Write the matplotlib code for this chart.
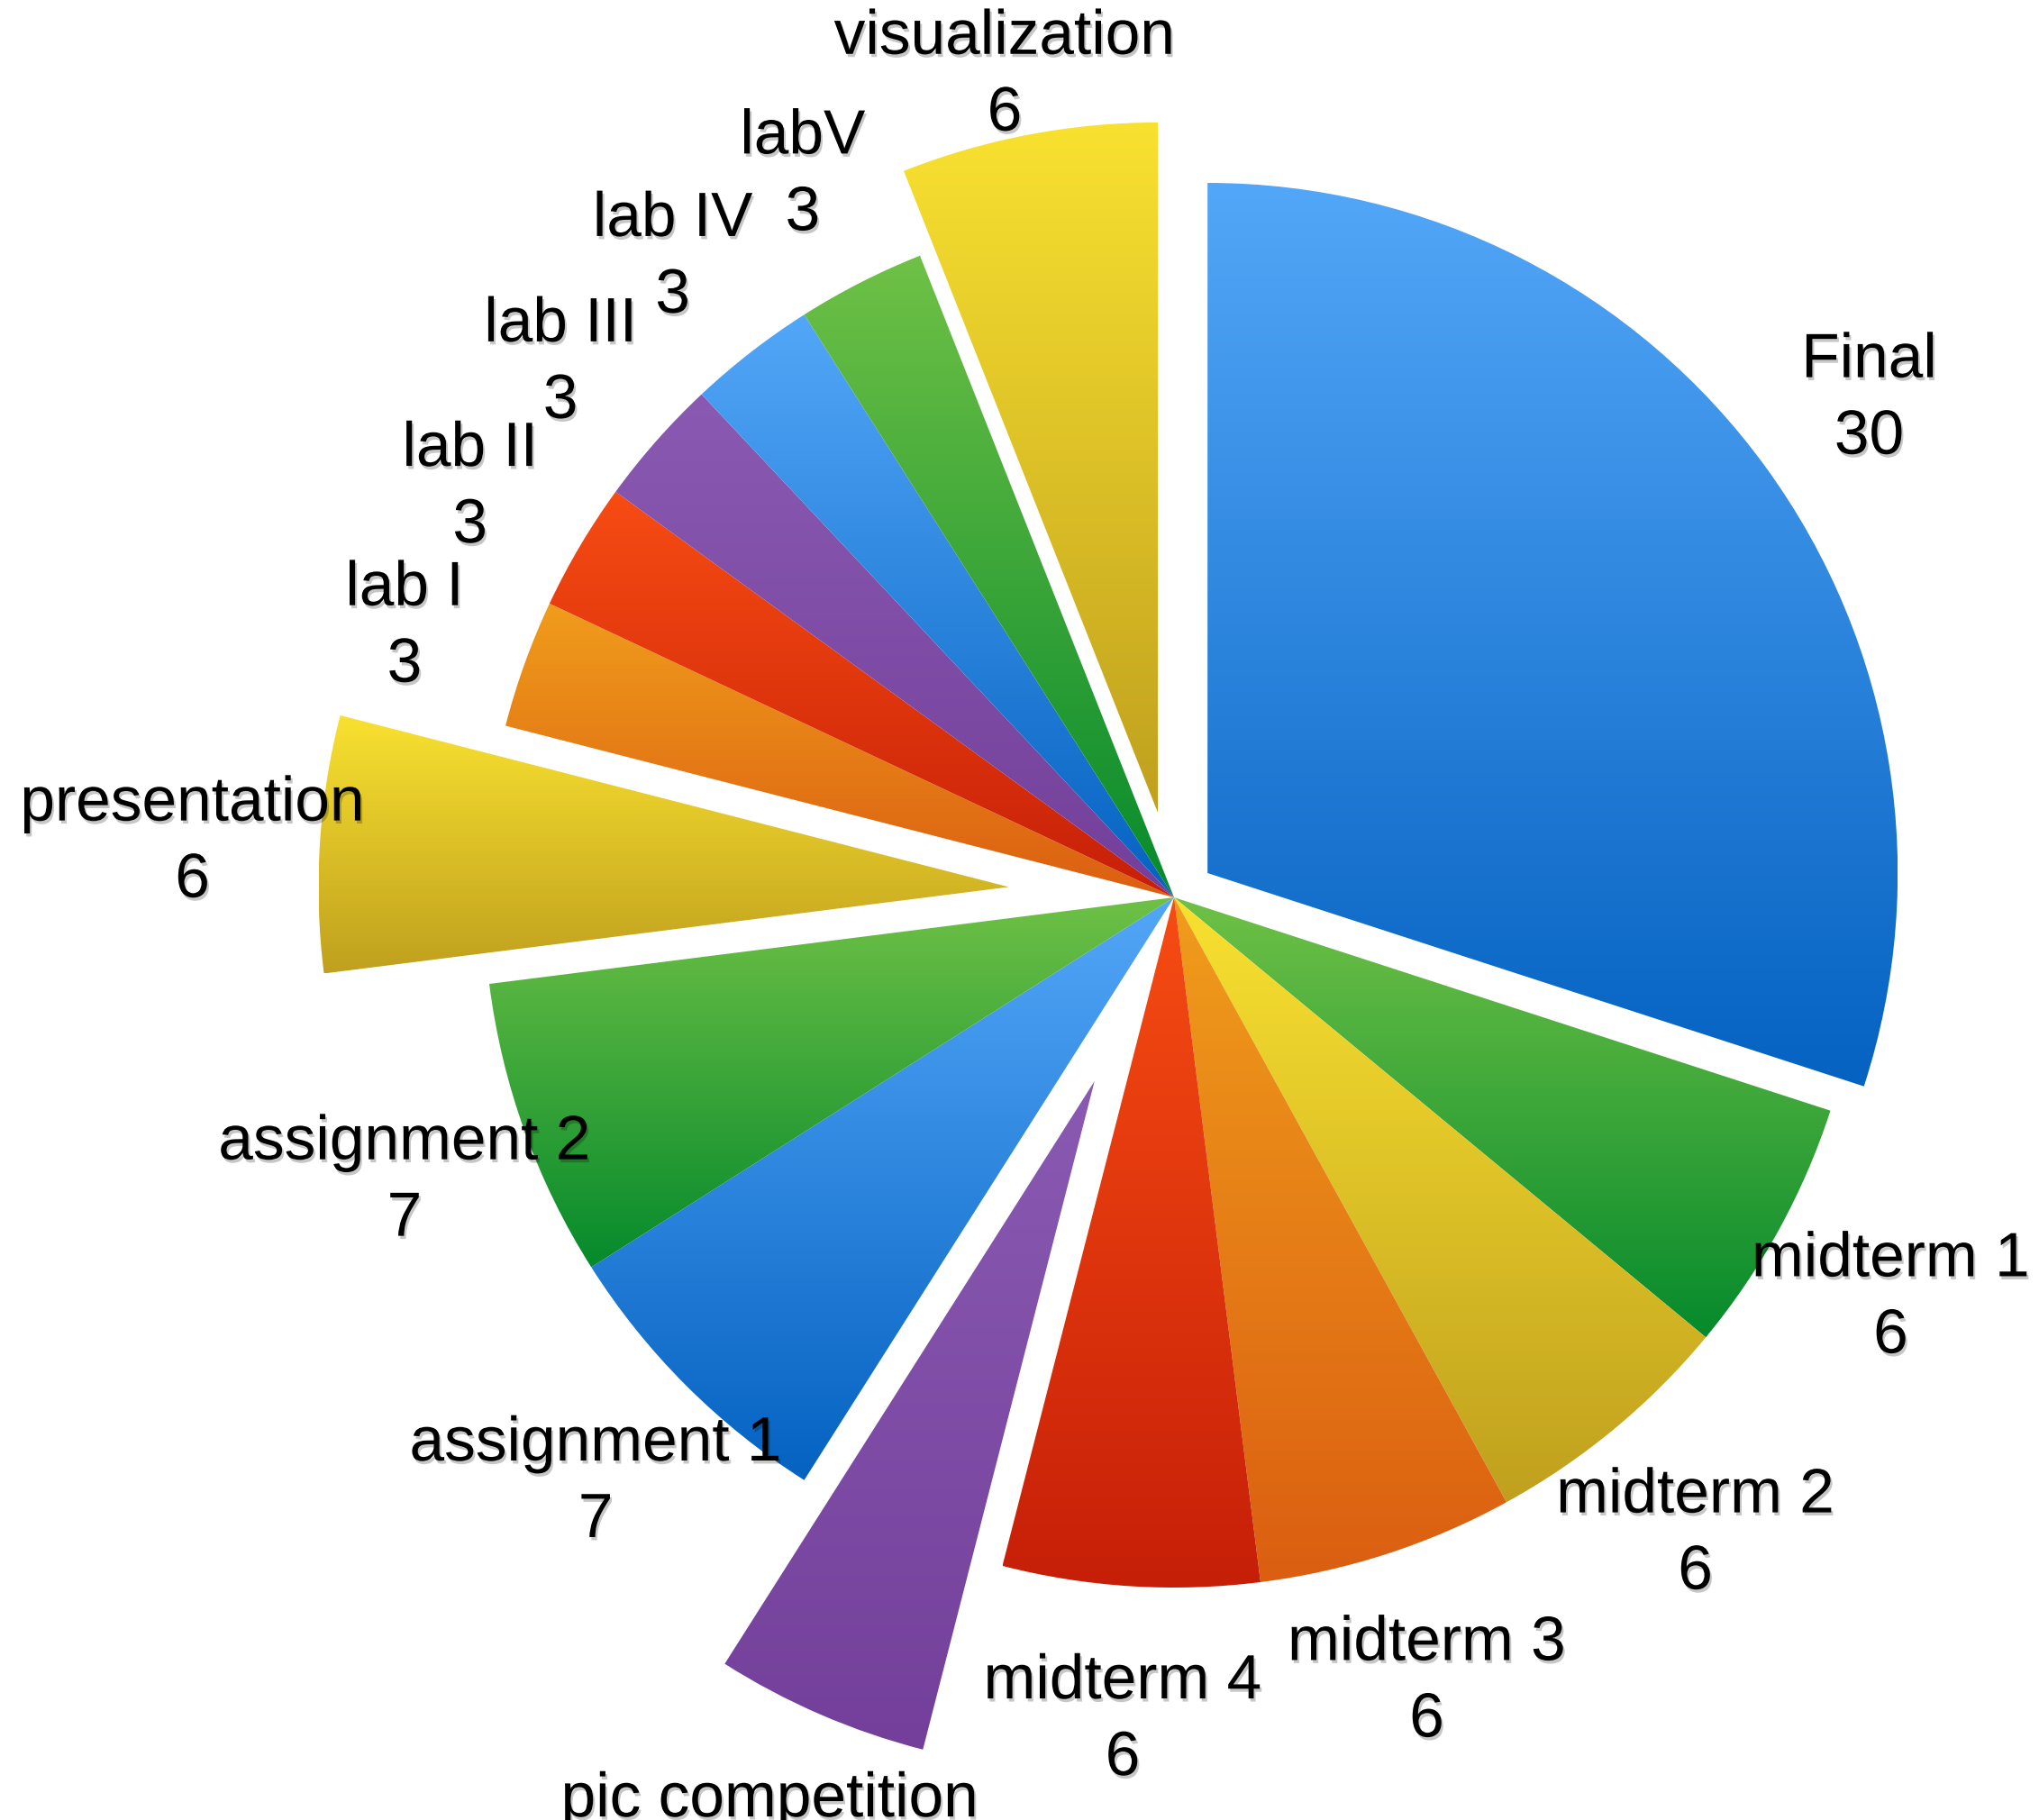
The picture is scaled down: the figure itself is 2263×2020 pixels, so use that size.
import numpy as np
import matplotlib
matplotlib.use('Agg')
import matplotlib.pyplot as plt
import matplotlib.patheffects as pe
from matplotlib.colors import to_rgb

# grade breakdown, clockwise from 12 o'clock
labels = ['Final', 'midterm 1', 'midterm 2', 'midterm 3', 'midterm 4',
          'pic competition', 'assignment 1', 'assignment 2', 'presentation',
          'lab I', 'lab II', 'lab III', 'lab IV', 'labV', 'visualization']
values = [30, 6, 6, 6, 6, 5, 7, 7, 6, 3, 3, 3, 3, 3, 6]

# pulled out slices
explode = [0.06, 0, 0, 0, 0, 0.29, 0, 0, 0.24, 0, 0, 0, 0, 0, 0.125]

# keynote-ish palette: light at the top of each slice, dark at the bottom
top_colors = ['#53A7F8', '#6FC146', '#F9E130', '#F09D1C', '#F74C13', '#8A5AB2']
bottom_colors = ['#0562C1', '#068A2C', '#C0A01E', '#DB5E11', '#C61F08', '#733F9A']

fig = plt.figure(figsize=(22.63, 20.20), dpi=100)
ax = fig.add_axes([0, 0, 1, 1])

wedges, _ = ax.pie(values, explode=explode, startangle=90, counterclock=False,
                   radius=1.0, wedgeprops=dict(linewidth=0))

for i, w in enumerate(wedges):
    c0 = np.array(to_rgb(top_colors[i % 6]))
    c1 = np.array(to_rgb(bottom_colors[i % 6]))
    t = np.linspace(0, 1, 256)[:, None]
    grad = (c0 * (1 - t) + c1 * t)[:, None, :]

    bb = w.get_path().get_extents()
    w.set_facecolor('none')
    im = ax.imshow(grad, extent=(bb.x0, bb.x1, bb.y0, bb.y1), origin='upper',
                   aspect='auto', interpolation='bilinear', zorder=1)
    im.set_clip_path(w)

# pixel-matched limits (766 px per radius)
xlim = (-1303 / 766, (2263 - 1303) / 766)
ylim = (-(2020 - 996) / 766, 996 / 766)
ax.set_xlim(xlim)
ax.set_ylim(ylim)
ax.set_aspect('equal')
ax.axis('off')

# labels sit just outside each slice, centred
shadow = [pe.withSimplePatchShadow(offset=(1.5, -2.5), shadow_rgbFace='black', alpha=0.22)]
for w, lab, val in zip(wedges, labels, values):
    ang = np.deg2rad((w.theta1 + w.theta2) / 2)
    cx, cy = w.center
    x = cx + 1.185 * np.cos(ang)
    y = cy + 1.185 * np.sin(ang) - 0.01
    y = min(y, ylim[1] - 0.11)
    ax.text(x, y, '{}\n{}'.format(lab, val), ha='center', va='center',
            fontsize=50, family='Liberation Sans', linespacing=1.42,
            color='black', zorder=5, path_effects=shadow)

plt.savefig('out.png', dpi=100, facecolor='white')
